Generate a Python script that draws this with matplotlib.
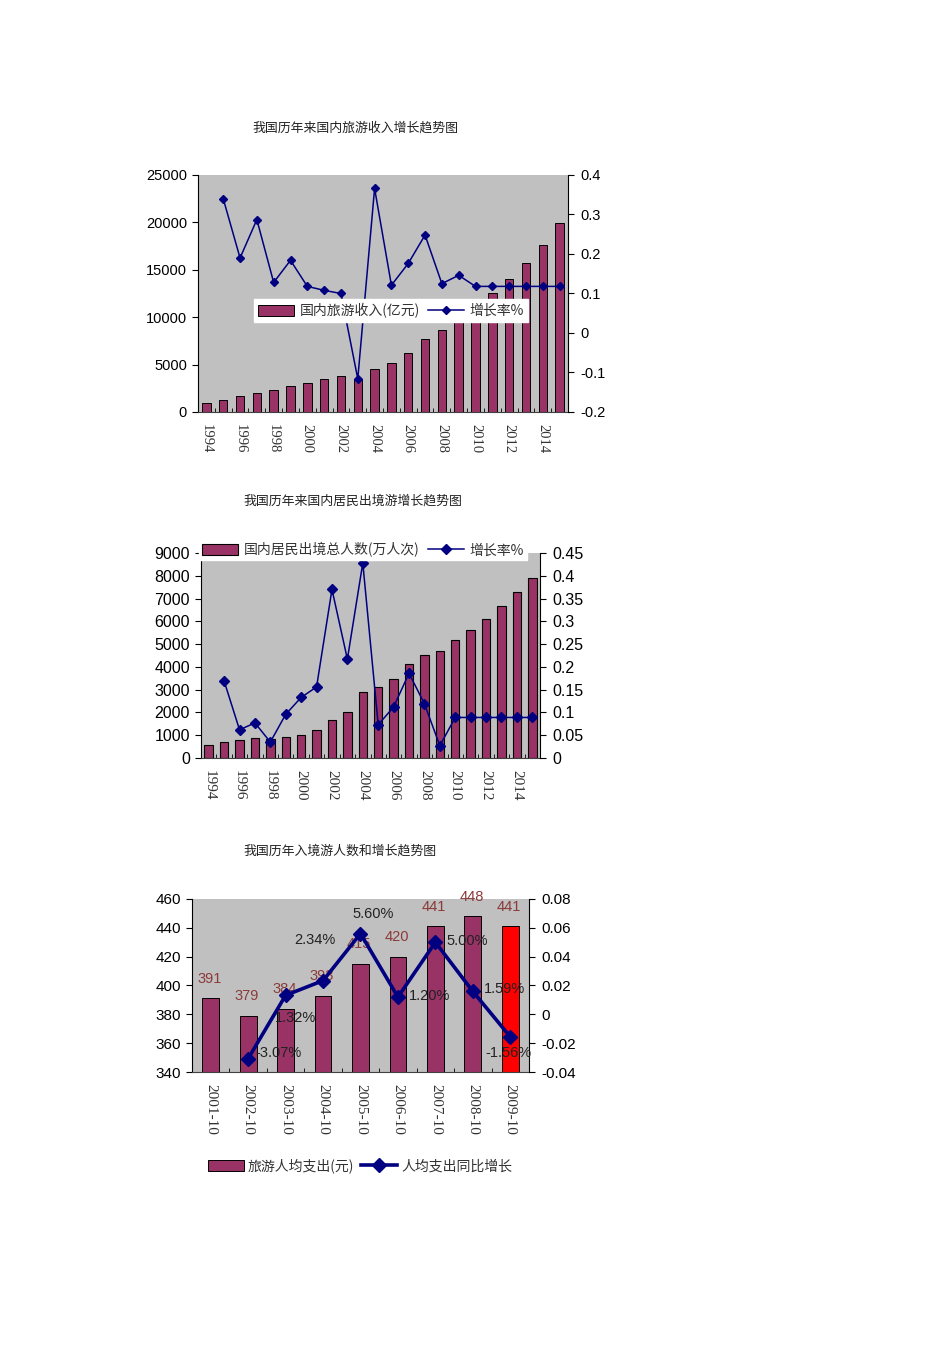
import matplotlib
matplotlib.use("Agg")
import matplotlib.pyplot as plt
import numpy as np
from matplotlib.lines import Line2D
from matplotlib.patches import Patch

plt.rcParams['font.family'] = ['Noto Sans CJK SC', 'DejaVu Sans']

# ---------------- data ----------------
years = [str(y) for y in range(1994, 2016)]
income = [1000, 1270, 1650, 2040, 2290, 2780, 3030, 3520, 3800, 3400, 4560,
          5210, 6230, 7750, 8630, 10200, 11200, 12500, 14080, 15770, 17600, 19900]
income_growth = [None, 0.34, 0.19, 0.287, 0.128, 0.184, 0.118, 0.108, 0.10, -0.116,
                 0.366, 0.121, 0.176, 0.248, 0.125, 0.146, 0.118, 0.118, 0.118,
                 0.118, 0.118, 0.118]

outbound = [580, 715, 770, 860, 843, 920, 1020, 1225, 1680, 2010, 2890, 3100,
            3470, 4125, 4530, 4690, 5175, 5610, 6110, 6680, 7290, 7900]
outbound_growth = [None, 0.169, 0.062, 0.077, 0.035, 0.096, 0.133, 0.156, 0.37,
                   0.217, 0.428, 0.073, 0.112, 0.186, 0.119, 0.027, 0.089, 0.089,
                   0.089, 0.089, 0.089, 0.089]

months = ["2001-10", "2002-10", "2003-10", "2004-10", "2005-10", "2006-10",
          "2007-10", "2008-10", "2009-10"]
spend = [391, 379, 384, 393, 415, 420, 441, 448, 441]
spend_growth = [None, -0.0307, 0.0132, 0.0234, 0.056, 0.012, 0.05, 0.0159, -0.0156]
spend_growth_labels = ["", "-3.07%", "1.32%", "2.34%", "5.60%", "1.20%", "5.00%",
                       "1.59%", "-1.56%"]

titles = ["我国历年来国内旅游收入增长趋势图",
          "我国历年来国内居民出境游增长趋势图",
          "我国历年入境游人数和增长趋势图"]

# ---------------- style ----------------
BAR = '#993366'
LINE = '#000080'
BG = '#c0c0c0'
W, H = 950, 1345
fig = plt.figure(figsize=(W / 100, H / 100), dpi=100)


def ax_rect(x0, y0, x1, y1):
    return [x0 / W, 1 - y1 / H, (x1 - x0) / W, (y1 - y0) / H]


def style_axes(ax, ax2, fs):
    ax.set_facecolor(BG)
    for s in ['top', 'right']:
        ax.spines[s].set_visible(False)
    ax.spines['left'].set_color('black')
    ax.spines['bottom'].set_color('#404040')
    ax2.spines['top'].set_visible(False)
    ax2.spines['left'].set_visible(False)
    ax2.spines['bottom'].set_visible(False)
    ax.tick_params(axis='y', direction='out', length=4, labelsize=fs, pad=4)
    ax2.tick_params(axis='y', direction='out', length=4, labelsize=fs, pad=5)
    for lab in ax.get_yticklabels() + ax2.get_yticklabels():
        lab.set_family('Liberation Sans')


def fmt(v):
    s = ('%g' % round(v, 4))
    return s


# ---------------- chart 1 ----------------
fig.text(355 / W, 1 - 128 / H, titles[0], ha='center', va='center', fontsize=9.3, color='#222222')
ax1 = fig.add_axes(ax_rect(198, 175, 568, 412))
x1 = np.arange(len(years))
ax1.bar(x1, income, width=0.5, color=BAR, edgecolor='black', linewidth=0.7, zorder=2)
ax1.set_ylim(0, 25000)
ax1.set_yticks(range(0, 25001, 5000))
ax1.set_xlim(-0.5, 21.3)
ax1.set_xticks(x1[::2])
ax1.set_xticklabels(years[::2], rotation=270, family='Liberation Serif', fontsize=10.5, color='#333333')
ax1.set_xticks(x1 + 0.5, minor=True)
ax1.tick_params(axis='x', which='major', length=0, pad=9)
ax1.tick_params(axis='x', which='minor', direction='in', length=3)
ax1b = ax1.twinx()
xs = [x for x, v in zip(x1, income_growth) if v is not None]
ys = [v for v in income_growth if v is not None]
ax1b.plot(xs, ys, color=LINE, lw=1.1, marker='D', ms=4.5, zorder=3)
ax1b.set_ylim(-0.2, 0.4)
ax1b.set_yticks(np.arange(-0.2, 0.41, 0.1))
ax1b.set_yticklabels([fmt(v) for v in np.arange(-0.2, 0.41, 0.1)])
style_axes(ax1, ax1b, 10.5)
h1 = [Patch(facecolor=BAR, edgecolor='black', linewidth=0.7),
      Line2D([], [], color=LINE, lw=1.1, marker='D', ms=4.5)]
leg1 = ax1b.legend(h1, ['国内旅游收入(亿元)', '增长率%'], loc='center',
                   bbox_to_anchor=(391 / W, 1 - 310.5 / H), bbox_transform=fig.transFigure,
                   ncol=2, frameon=True, fancybox=False, framealpha=1, edgecolor='white',
                   fontsize=10, handlelength=2.6, handleheight=0.8, columnspacing=0.6,
                   handletextpad=0.4, borderpad=0.3, labelcolor='#333333')

# ---------------- chart 2 ----------------
fig.text(353 / W, 1 - 501 / H, titles[1], ha='center', va='center', fontsize=9.3, color='#222222')
ax2 = fig.add_axes(ax_rect(201, 553, 540, 758))
x2 = np.arange(len(years))
ax2.bar(x2, outbound, width=0.55, color=BAR, edgecolor='black', linewidth=0.8, zorder=2)
ax2.set_ylim(0, 9000)
ax2.set_yticks(range(0, 9001, 1000))
ax2.set_xlim(-0.5, 21.25)
ax2.set_xticks(x2[::2])
ax2.set_xticklabels(years[::2], rotation=270, family='Liberation Serif', fontsize=11, color='#333333')
ax2.set_xticks(x2 + 0.5, minor=True)
ax2.tick_params(axis='x', which='major', length=0, pad=9)
ax2.tick_params(axis='x', which='minor', direction='in', length=3)
ax2b = ax2.twinx()
xs = [x for x, v in zip(x2, outbound_growth) if v is not None]
ys = [v for v in outbound_growth if v is not None]
ax2b.plot(xs, ys, color=LINE, lw=1.1, marker='D', ms=5, zorder=3)
ax2b.set_ylim(0, 0.45)
ax2b.set_yticks(np.arange(0, 0.451, 0.05))
ax2b.set_yticklabels([fmt(v) for v in np.arange(0, 0.451, 0.05)])
style_axes(ax2, ax2b, 11.5)
h2 = [Patch(facecolor=BAR, edgecolor='black', linewidth=0.8),
      Line2D([], [], color=LINE, lw=1.1, marker='D', ms=5)]
ax2b.legend(h2, ['国内居民出境总人数(万人次)', '增长率%'], loc='center',
            bbox_to_anchor=(363 / W, 1 - 550 / H), bbox_transform=fig.transFigure,
            ncol=2, frameon=True, fancybox=False, framealpha=1, edgecolor='white',
            fontsize=10, handlelength=2.6, handleheight=0.8, columnspacing=0.6,
            handletextpad=0.4, borderpad=0.2, labelcolor='#333333')

# ---------------- chart 3 ----------------
fig.text(340 / W, 1 - 851 / H, titles[2], ha='center', va='center', fontsize=9.3, color='#222222')
ax3 = fig.add_axes(ax_rect(192, 899, 529, 1072))
x3 = np.arange(len(months))
colors3 = [BAR] * (len(months) - 1) + ['#ff0000']
ax3.bar(x3, [v - 340 for v in spend], bottom=340, width=0.45, color=colors3,
        edgecolor='black', linewidth=0.7, zorder=2)
ax3.set_ylim(340, 460)
ax3.set_yticks(range(340, 461, 20))
ax3.set_xlim(-0.5, 8.5)
ax3.set_xticks(x3)
ax3.set_xticklabels(months, rotation=270, family='Liberation Serif', fontsize=11, color='#333333')
ax3.set_xticks(x3 + 0.5, minor=True)
ax3.tick_params(axis='x', which='major', length=0, pad=9)
ax3.tick_params(axis='x', which='minor', direction='in', length=3)
for x, v in zip(x3, spend):
    ax3.annotate(str(v), (x, v), xytext=(-1, 14), textcoords='offset points',
                 ha='center', va='center', fontsize=10.5, color='#8b3a3a',
                 family='Liberation Sans', zorder=5)
ax3b = ax3.twinx()
xs = [x for x, v in zip(x3, spend_growth) if v is not None]
ys = [v for v in spend_growth if v is not None]
ax3b.plot(xs, ys, color=LINE, lw=2.6, marker='D', ms=7, zorder=3)
ax3b.set_ylim(-0.04, 0.08)
ax3b.set_yticks(np.arange(-0.04, 0.081, 0.02))
ax3b.set_yticklabels([fmt(v) for v in np.arange(-0.04, 0.081, 0.02)])
style_axes(ax3, ax3b, 11)
label_offsets = [None, (5, 4, 'left'), (7, -16, 'center'), (-6, 29, 'center'),
                 (9, 14, 'center'), (8, 1, 'left'), (8, 1, 'left'), (8, 2, 'left'),
                 (-1, -12, 'center')]
for x, v, t, off in zip(x3, spend_growth, spend_growth_labels, label_offsets):
    if v is None:
        continue
    ax3b.annotate(t, (x, v), xytext=(off[0], off[1]), textcoords='offset points',
                  ha=off[2], va='center', fontsize=10.5, color='#222222',
                  family='Liberation Sans', zorder=6)
h3 = [Patch(facecolor=BAR, edgecolor='black', linewidth=0.7),
      Line2D([], [], color=LINE, lw=2.6, marker='D', ms=7)]
fig.legend(h3, ['旅游人均支出(元)', '人均支出同比增长'], loc='center',
           bbox_to_anchor=(360 / W, 1 - 1166 / H), ncol=2, frameon=False,
           fontsize=10, handlelength=2.6, handleheight=0.8, columnspacing=0.5,
           handletextpad=0.3, labelcolor='#333333')

fig.savefig('out.png', dpi=100)
